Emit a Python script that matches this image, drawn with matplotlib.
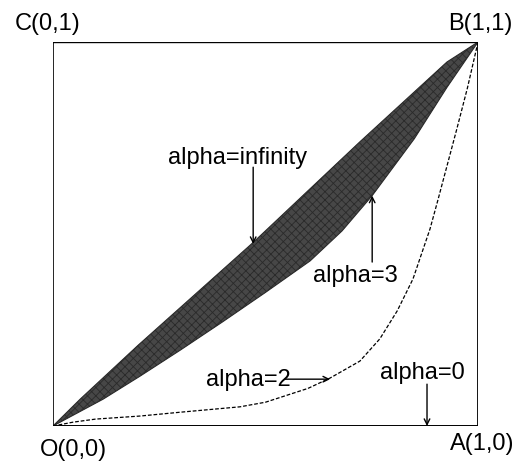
import matplotlib.pyplot as plt

plt.rcParams['font.family'] = ['Liberation Sans', 'DejaVu Sans']
plt.rcParams['hatch.color'] = '#8a8a8a'
plt.rcParams['hatch.linewidth'] = 0.6

# alpha = infinity : upper edge of the shaded band (close to the diagonal OB)
inf_x = [0, 0.064, 0.20, 0.47, 0.722, 0.927, 1]
inf_y = [0, 0.070, 0.21, 0.477, 0.740, 0.948, 1]

# alpha = 3 : lower edge of the shaded band
a3_x = [0, 0.118, 0.205, 0.30, 0.40, 0.50, 0.605, 0.68, 0.751, 0.85, 0.927, 1]
a3_y = [0, 0.070, 0.130, 0.198, 0.272, 0.348, 0.430, 0.508, 0.600, 0.748, 0.882, 1]

# alpha = 2 : dashed curve hugging OA then rising to B
a2_x = [0, 0.047, 0.10, 0.205, 0.30, 0.44, 0.50, 0.60, 0.652, 0.722, 0.769,
        0.81, 0.847, 0.887, 0.906, 0.95, 0.975, 1]
a2_y = [0, 0.010, 0.018, 0.026, 0.036, 0.050, 0.062, 0.098, 0.125, 0.169, 0.227,
        0.300, 0.383, 0.513, 0.590, 0.773, 0.880, 1]

# alpha = 0 : the path O -> A -> B
a0_x = [0, 1, 1]
a0_y = [0, 0, 1]

corner_labels = ['O(0,0)', 'A(1,0)', 'B(1,1)', 'C(0,1)']
corner_pos = [(0.047, -0.06), (1.009, -0.044), (1.005, 1.049), (-0.012, 1.049)]

fig = plt.figure(figsize=(5.21, 4.64), dpi=100)
ax = fig.add_axes([0.1017, 0.0797, 0.8158, 0.8276])
ax.set_xlim(0, 1)
ax.set_ylim(0, 1)
ax.axis('off')

# square frame
ax.plot([0, 0, 1], [1, 0, 0], color='black', lw=1.2, solid_capstyle='butt')
ax.plot([0, 1], [1, 1], color='black', lw=1.0)
ax.plot(a0_x, a0_y, color='black', lw=1.3)

# shaded band between alpha=3 and alpha=infinity
band_x = inf_x + a3_x[::-1]
band_y = inf_y + a3_y[::-1]
ax.fill(band_x, band_y, facecolor='#474747', edgecolor='#2a2a2a', lw=0.8,
        hatch='xxxx')

ax.plot(a2_x, a2_y, color='black', lw=0.9, ls=(0, (3, 1.5)))

for lab, (x, y) in zip(corner_labels, corner_pos):
    ax.text(x, y, lab, fontsize=17, ha='center', va='center', clip_on=False)

arrow = dict(arrowstyle='->', color='black', lw=1.0, shrinkA=0, shrinkB=0)
ax.text(0.435, 0.70, 'alpha=infinity', fontsize=17, ha='center', va='center')
ax.annotate('', xy=(0.471, 0.474), xytext=(0.471, 0.674), arrowprops=arrow)

ax.text(0.711, 0.393, 'alpha=3', fontsize=17, ha='center', va='center')
ax.annotate('', xy=(0.751, 0.600), xytext=(0.751, 0.427), arrowprops=arrow)

ax.text(0.459, 0.122, 'alpha=2', fontsize=17, ha='center', va='center')
ax.annotate('', xy=(0.652, 0.122), xytext=(0.546, 0.122), arrowprops=arrow)

ax.text(0.868, 0.141, 'alpha=0', fontsize=17, ha='center', va='center')
ax.annotate('', xy=(0.88, 0.0), xytext=(0.88, 0.109), arrowprops=arrow)

fig.savefig('out.png', dpi=100)
